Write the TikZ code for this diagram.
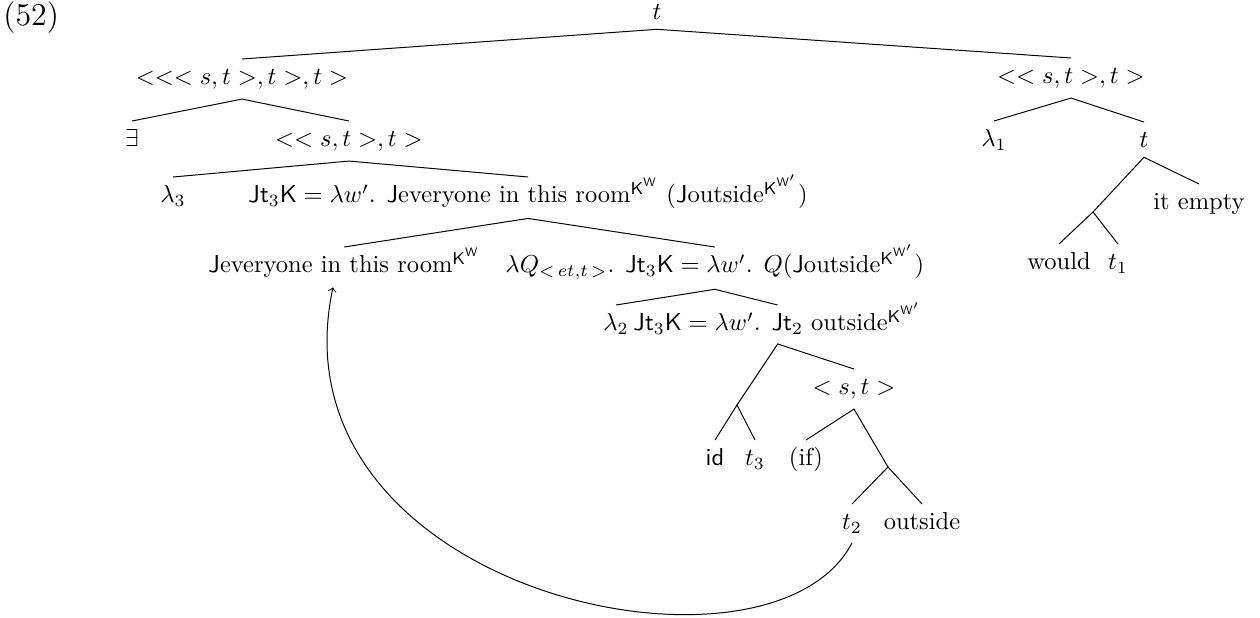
\documentclass[tikz,border=0pt]{standalone}
\usepackage{amsmath}
\tikzset{
  lbl/.style={inner xsep=0pt, inner ysep=3.6pt, text height=6.8pt},
  br/.style={line width=0.4pt},
  mv/.style={line width=0.4pt, ->}
}
\newcommand{\Lb}{\textsf{J}}
\newcommand{\Rw}{$^{\mathsf{K}^{\mathsf{W}}}$}
\newcommand{\Rwp}{$^{\mathsf{K}^{\mathsf{W}'}}$}
\newcommand{\Tt}[1]{\textsf{Jt}$_{#1}\textsf{K}=\lambda w'$}
\begin{document}
\begin{tikzpicture}[x=0.408pt,y=-0.408pt]
\useasboundingbox (0,0) rectangle (1260,618);
% example number
\node[anchor=base west,inner sep=0pt,font=\fontsize{13}{15}\selectfont] (ex) at (3,26) {(52)};
% nodes
\node[lbl,anchor=base] (root) at (657,20) {$t$};
\node[lbl,anchor=base] (A) at (242,85) {$<<<s,t>,t>,t>$};
\node[lbl,anchor=base] (B) at (1071,84) {$<<s,t>,t>$};
\node[lbl,anchor=base] (E) at (132,147) {$\exists$};
\node[lbl,anchor=base] (A2) at (349,147) {$<<s,t>,t>$};
\node[lbl,anchor=base] (L1) at (994,147) {$\lambda_1$};
\node[lbl,anchor=base] (Bt) at (1144,148) {$t$};
\node[lbl,anchor=base] (L3) at (173,203) {$\lambda_3$};
\node[lbl,anchor=base west] (A22) at (248,203) {\Tt{3}. \Lb everyone in this room\Rw{} (\Lb outside\Rwp)};
\node[lbl,anchor=base west] (A221) at (208,273) {\Lb everyone in this room\Rw};
\node[lbl,anchor=base west] (A222) at (505,273) {$\lambda Q_{<\,et,t\,>}$. \Tt{3}. $Q$(\Lb outside\Rwp)};
\node[lbl,anchor=base] (L2) at (616,331) {$\lambda_2$};
\node[lbl,anchor=base west] (A2222) at (633,331) {\Tt{3}. \textsf{Jt}$_2$ outside\Rwp};
\coordinate (N1) at (737,405);
\node[lbl,anchor=base] (ST) at (854,395) {$<s,t>$};
\node[lbl,anchor=base] (ID) at (715,466) {\textsf{id}};
\node[lbl,anchor=base] (T3) at (755,466) {$t_3$};
\node[lbl,anchor=base] (IF) at (806,466) {(if)};
\coordinate (N3) at (888,467);
\node[lbl,anchor=base] (T2) at (852,530) {$t_2$};
\node[lbl,anchor=base] (OUT) at (922,530) {outside};
\coordinate (B21) at (1093,212);
\node[lbl,anchor=base] (IE) at (1199,210) {it empty};
\node[lbl,anchor=base] (WO) at (1059,270) {would};
\node[lbl,anchor=base] (T1) at (1118,270) {$t_1$};
% branches
\draw[br] (A.north) -- (root.south) -- (B.north);
\draw[br] (E.north) -- (A.south) -- (A2.north);
\draw[br] (L1.north) -- (B.south) -- (Bt.north);
\draw[br] (L3.north) -- (A2.south) -- (A22.north);
\draw[br] (A221.north) -- (A22.south) -- (A222.north);
\draw[br] (L2.north) -- (A222.south) -- (A2222.north);
\draw[br] (N1) -- (A2222.south) -- (ST.north);
\draw[br] (ID.north) -- (N1) -- (T3.north);
\draw[br] (IF.north) -- (ST.south) -- (N3);
\draw[br] (T2.north) -- (N3) -- (OUT.north);
\draw[br] (B21) -- (Bt.south) -- (IE.north);
\draw[br] (WO.north) -- (B21) -- (T1.north);
% movement arrow
\coordinate (ax) at (333,0);
\draw[mv] (T2.south) .. controls (770,700) and (268,592) .. (ax |- A221.south);
\end{tikzpicture}
\end{document}
